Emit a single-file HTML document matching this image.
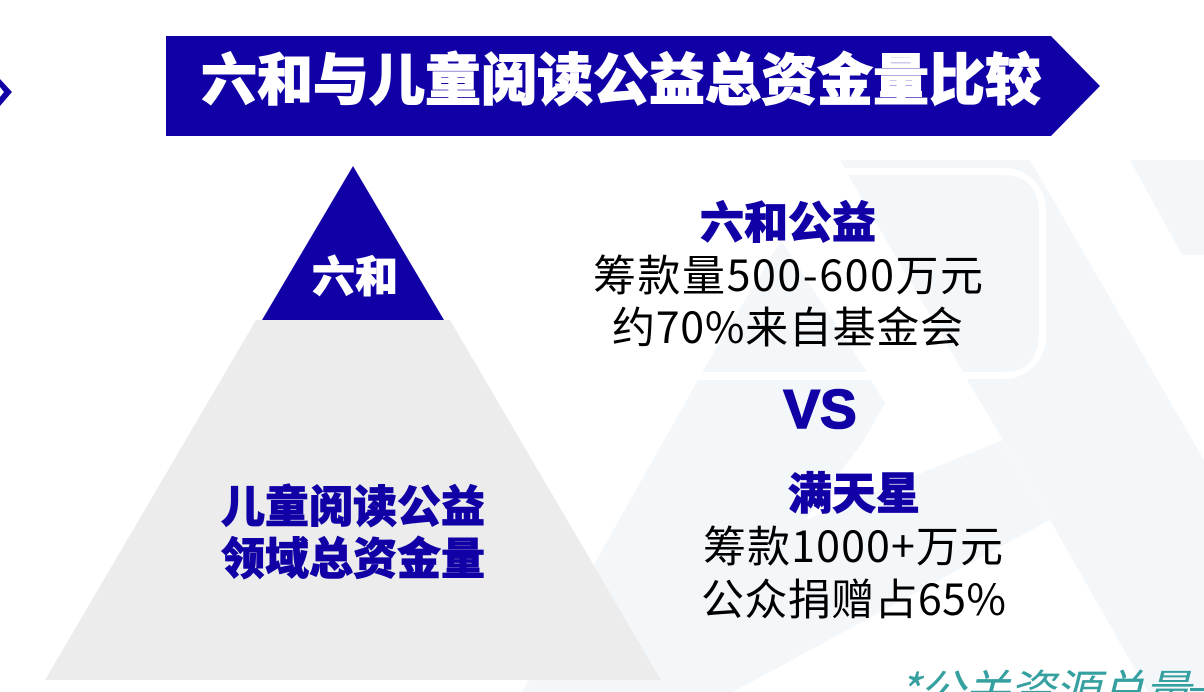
<!DOCTYPE html>
<html lang="zh">
<head>
<meta charset="utf-8">
<title>六和与儿童阅读公益总资金量比较</title>
<style>
html,body{margin:0;padding:0;width:1204px;height:692px;overflow:hidden;background:#fff}
svg{display:block}
text{font-family:"Liberation Sans","Noto Sans CJK SC",sans-serif}
.cjk{font-family:"Noto Sans CJK SC",sans-serif}
.h{font-weight:900;fill:#1000a5;stroke:#1000a5;stroke-width:.8px}
.b{font-family:"Noto Sans CJK SC",sans-serif;font-size:43px;font-weight:400;fill:#000}
</style>
</head>
<body>
<svg width="1204" height="692" viewBox="0 0 1204 692" xmlns="http://www.w3.org/2000/svg">
  <g fill="#f3f7fa">
    <polygon points="1130,160 1204,160 1204,255 1182,255"/>
    <polygon points="840,160 1030,160 1204,460 1204,692 1148,692 1050,520 1003,440 960,368"/>
    <rect x="700" y="168" width="346" height="211" rx="42" ry="42" fill="#fff"/>
    <path d="M848,175 H1003 Q1039,175 1039,215 V332 Q1039,372 1003,372 H963 Z"/>
    <polygon points="781,240 867,372 702,372"/>
    <polygon points="698,380 871,380 885,403 864,440 805,520 1003,440 1050,520 733,692 522,692"/>
  </g>

  <polygon fill="#1000a5" points="0,79 12,92 0,106 0,97 4,92 0,87"/>

  <polygon fill="#1000a5" points="166,36 1051,36 1100,86 1051,136 166,136"/>
  <text class="cjk" x="621" y="100" text-anchor="middle" font-size="56" font-weight="900" fill="#fff" stroke="#fff" stroke-width="1">六和与儿童阅读公益总资金量比较</text>

  <polygon fill="#ececec" points="256,320 450,320 661,680 45,680"/>
  <polygon fill="#1000a5" points="353,166 444,320 262,320"/>
  <text class="cjk" x="355" y="292" text-anchor="middle" font-size="43" font-weight="900" fill="#fff" stroke="#fff" stroke-width=".8">六和</text>
  <text class="cjk h" x="353" y="522" text-anchor="middle" font-size="44">儿童阅读公益</text>
  <text class="cjk h" x="353" y="574" text-anchor="middle" font-size="44">领域总资金量</text>

  <text class="cjk h" x="788" y="238" text-anchor="middle" font-size="44">六和公益</text>
  <text class="b" x="593" y="291" textLength="390">筹款量500-600万元</text>
  <text class="b" x="612" y="343" textLength="351">约70%来自基金会</text>

  <text x="820" y="428" text-anchor="middle" font-size="55" font-weight="700" fill="#1000a5" stroke="#1000a5" stroke-width="1.6">VS</text>

  <text class="cjk h" x="854" y="509" text-anchor="middle" font-size="44">满天星</text>
  <text class="b" x="703" y="562" textLength="300">筹款1000+万元</text>
  <text class="b" x="701" y="615" textLength="305">公众捐赠占65%</text>

  <text class="cjk" x="898" y="708" font-size="46" font-style="italic" fill="#36a0a0" textLength="292">*公关资源总量</text>
  <rect x="1190" y="688" width="14" height="3" fill="#36a0a0"/>
</svg>
</body>
</html>
